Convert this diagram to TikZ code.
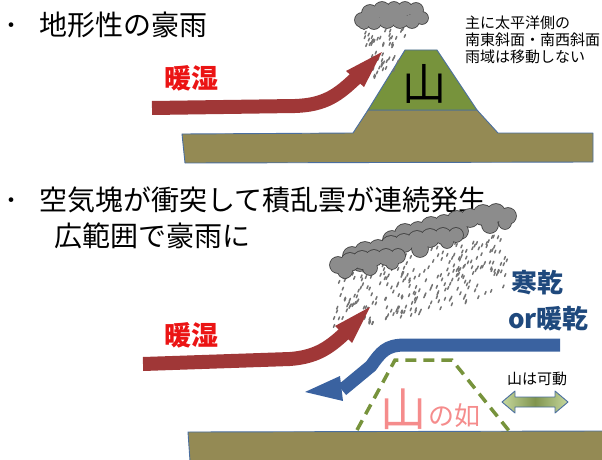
\documentclass[tikz,border=0pt]{standalone}
\usepackage{fontspec}
\setmainfont{Noto Sans CJK JP}
\newfontfamily\jp{Noto Sans CJK JP}
\definecolor{groundbrown}{RGB}{148,138,84}
\definecolor{edgeblue}{RGB}{74,110,160}
\definecolor{mountgreen}{RGB}{119,147,60}
\definecolor{warmred}{RGB}{160,55,55}
\definecolor{coldblue}{RGB}{58,98,160}
\definecolor{textblue}{RGB}{31,73,125}
\definecolor{textred}{RGB}{235,20,20}
\definecolor{softpink}{RGB}{245,140,140}
\definecolor{cloudgray}{RGB}{140,140,140}
\definecolor{cloudedge}{RGB}{60,60,60}
\definecolor{raingray}{RGB}{115,115,115}
\definecolor{paleolive}{RGB}{198,216,158}
\definecolor{darkolive}{RGB}{128,148,78}

\tikzset{
  ground/.style={fill=groundbrown, draw=edgeblue, line width=0.9pt, line join=round},
  mount/.style={fill=mountgreen, draw=edgeblue, line width=0.9pt, line join=round},
  cloudline/.style={draw=cloudedge, line width=1.6pt},
  cloudfill/.style={fill=cloudgray},
  raindrop/.style={draw=raingray, line width=1.5pt, line cap=round},
  warmshaft/.style={draw=warmred, line width=14pt},
  warmhead/.style={fill=warmred},
  coldshaft/.style={draw=coldblue, line width=13pt},
  coldhead/.style={fill=coldblue},
  plain/.style={inner sep=0pt, font=\jp},
  bullet/.style={plain, anchor=base, font=\jp\fontsize{22}{24}\selectfont},
  heading/.style={plain, anchor=west, font=\jp\fontsize{28}{32}\selectfont},
  note/.style={plain, anchor=west, font=\jp\fontsize{15}{17}\selectfont},
  flowlabel/.style={plain, anchor=west, font=\jp\bfseries\fontsize{27}{30}\selectfont},
}

% a cloud: outlines of all puffs first, then their fills on top
\newcommand\cloudgroup[1]{%
  \foreach \a/\b/\r in {#1} \path[cloudline] (\a,\b) circle (\r pt);
  \foreach \a/\b/\r in {#1} \path[cloudfill] (\a,\b) circle (\r pt);
}

\begin{document}
\begin{tikzpicture}[x=1pt,y=-1pt]
\useasboundingbox (0,0) rectangle (602,460);

%% ---------- upper panel: orographic rain ----------
\node[bullet] (b1) at (12,33.5) {・};
\node[heading] (t1) at (39,25) {地形性の豪雨};

\node[note] (n1) at (465,23) {主に太平洋側の};
\node[note] (n2) at (465,40) {南東斜面・南西斜面};
\node[note] (n3) at (465,57) {雨域は移動しない};

% ground and mountain
\path[ground] (182,134) -- (353,133) -- (368,110) -- (477,110) -- (498,133)
  -- (593,133) -- (593,162) -- (185,163) -- cycle;
\path[mount] (368,110) -- (405,50) -- (437,50) -- (477,110) -- cycle;
\node[plain, font=\jp\fontsize{44}{46}\selectfont] (yama) at (424,84) {山};

% rain under the single cloud
\pgfmathsetseed{11}
\foreach \i in {1,...,55}{
  \pgfmathsetmacro\t{rnd}
  \pgfmathsetmacro\s{rnd}
  \pgfmathsetmacro\px{361+\s*(50-24*\t)+6*\t}
  \pgfmathsetmacro\py{30+\t*50}
  \path[raindrop] (\px,\py) -- ++(1.1,-2.7);
}
\cloudgroup{362/20/7, 370/13/8, 382/10/8, 394/9/7, 405/9/7, 416/10/7, 422/18/6,
  412/21/7, 400/20/8, 387/20/8, 374/22/7, 364/24/5}

% warm moist flow up the slope
\coordinate (wa1) at (152,108);
\coordinate (wa2) at (295,106);
\coordinate (wa3) at (356,78);
\path[warmshaft] (wa1) -- (wa2) .. controls (325,105) and (338,95) .. (wa3);
\path[warmhead] (382,52) -- (346,71) -- (364,87) -- cycle;
\node[flowlabel, text=textred] (w1) at (164,78) {暖湿};

%% ---------- lower panel: colliding air masses ----------
\node[bullet] (b2) at (12,208.5) {・};
\node[heading] (t2) at (39,200) {空気塊が衝突して積乱雲が連続発生};
\node[heading] (t3) at (54,236) {広範囲で豪雨に};

% ground
\path[ground] (188,432) -- (603,431) -- (603,461) -- (190,461) -- cycle;

% rain sheet below the cloud band
\pgfmathsetseed{5}
\foreach \i in {1,...,260}{
  \pgfmathsetmacro\s{rnd}
  \pgfmathsetmacro\t{rnd}
  \pgfmathsetmacro\px{338+\s*172-\t*6}
  \pgfmathsetmacro\py{270-\s*38+\t*64}
  \path[raindrop] (\px,\py) -- ++(1.1,-2.7);
}

% band of cumulonimbus, back row to front row
\cloudgroup{392/240/9, 405/234/10, 418/231/9, 431/227/10, 444/224/9, 457/221/10,
  470/218/9, 483/215/10, 496/213/9, 508/216/8, 400/245/8, 430/238/8, 460/231/8,
  490/225/8, 505/223/6}
\cloudgroup{352/256/9, 365/252/10, 378/249/9, 391/246/10, 404/243/9, 417/240/9,
  430/238/9, 443/236/8, 456/235/7, 360/263/8, 390/256/8, 420/249/8, 447/242/6}
\cloudgroup{338/265/8, 350/262/9, 362/260/9, 374/258/8, 386/257/8, 398/256/7,
  345/271/7, 370/268/7, 392/263/6}

% dashed mountain-like boundary
\path[draw=mountgreen, line width=3.5pt, dash pattern=on 11pt off 7pt]
  (357,430) -- (395,360) -- (452,360) -- (510,432);
\node[plain, text=softpink, font=\jp\fontsize{46}{48}\selectfont] (ny) at (403,409) {山};
\node[plain, text=softpink, font=\jp\fontsize{26}{28}\selectfont] (nn) at (454,416) {の如};

% warm moist flow
\coordinate (wb1) at (143,364);
\coordinate (wb2) at (290,359);
\coordinate (wb3) at (345,333);
\path[warmshaft] (wb1) -- (wb2) .. controls (315,357) and (328,349) .. (wb3);
\path[warmhead] (370,307) -- (335,326) -- (352,343) -- cycle;
\node[flowlabel, text=textred] (w2) at (164,335) {暖湿};

% cold (or warm) dry flow sliding under
\coordinate (cb1) at (560,345);
\coordinate (cb2) at (405,345);
\coordinate (cb3) at (342,390);
\path[coldshaft] (cb1) -- (cb2) .. controls (386,345) and (381,352) .. (371,366) -- (cb3);
\path[coldhead] (305,392) -- (340,376) -- (343,401) -- cycle;
\node[flowlabel, text=textblue, font=\jp\bfseries\fontsize{26}{28}\selectfont] (c1) at (511,283) {寒乾};
\node[flowlabel, text=textblue, font=\jp\bfseries\fontsize{26}{28}\selectfont] (c2) at (508,319) {or暖乾};

% the boundary can move
\node[plain, font=\jp\fontsize{15}{17}\selectfont] (mv) at (537,379) {山は可動};
\path[draw=edgeblue, line width=0.9pt, line join=round,
  left color=paleolive, right color=paleolive, middle color=darkolive]
  (502,402) -- (515,391) -- (515,397) -- (555,397) -- (555,391) -- (568,402)
  -- (555,413) -- (555,407) -- (515,407) -- (515,413) -- cycle;
\end{tikzpicture}
\end{document}
